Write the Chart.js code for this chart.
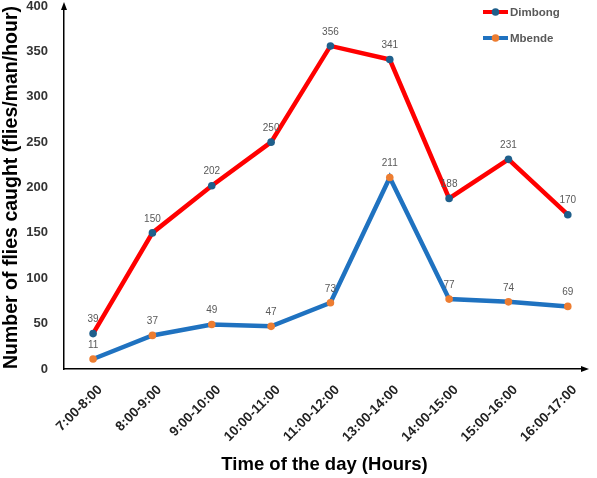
<!DOCTYPE html>
<html>
<head>
<meta charset="utf-8">
<script src="https://cdn.jsdelivr.net/npm/chart.js@4/dist/chart.umd.min.js"></script>
<style>
    html, body { margin: 0; padding: 0; background: #fff; }
    #wrap { width: 597px; height: 478px; }
</style>
</head>
<body>
<div id="wrap"><canvas id="flyChart"></canvas></div>
<script>
const timeLabels = ['7:00-8:00', '8:00-9:00', '9:00-10:00', '10:00-11:00', '11:00-12:00', '13:00-14:00', '14:00-15:00', '15:00-16:00', '16:00-17:00'];
const dimbongValues = [39, 150, 202, 250, 356, 341, 188, 231, 170];
const mbendeValues = [11, 37, 49, 47, 73, 211, 77, 74, 69];
const yTicks = [0, 50, 100, 150, 200, 250, 300, 350, 400];

const FONT = '"Liberation Sans", Arial, sans-serif';

const toPoints = (values) => values.map((v, i) => ({ x: i, y: v }));

// Value labels above each point
const valueLabels = {
    id: 'valueLabels',
    afterDatasetsDraw(chart) {
        const ctx = chart.ctx;
        ctx.save();
        ctx.font = '10px ' + FONT;
        ctx.fillStyle = '#595959';
        ctx.textAlign = 'center';
        ctx.textBaseline = 'middle';
        chart.data.datasets.forEach((ds, di) => {
            chart.getDatasetMeta(di).data.forEach((pt, i) => {
                ctx.fillText(String(ds.data[i].y), pt.x, pt.y - 14);
            });
        });
        ctx.restore();
    }
};

// Arrow heads on the ends of both axes
const axisArrows = {
    id: 'axisArrows',
    afterDraw(chart) {
        const { left, top, right, bottom } = chart.chartArea;
        const ctx = chart.ctx;
        ctx.save();
        ctx.fillStyle = '#000';
        ctx.beginPath();
        ctx.moveTo(left, top - 4);
        ctx.lineTo(left - 3, top + 4);
        ctx.lineTo(left + 3, top + 4);
        ctx.closePath();
        ctx.fill();
        ctx.beginPath();
        ctx.moveTo(right + 4, bottom);
        ctx.lineTo(right - 4, bottom - 3);
        ctx.lineTo(right - 4, bottom + 3);
        ctx.closePath();
        ctx.fill();
        ctx.restore();
    }
};

// Legend in the top right corner
const cornerLegend = {
    id: 'cornerLegend',
    afterDraw(chart) {
        const ctx = chart.ctx;
        ctx.save();
        chart.data.datasets.forEach((ds, i) => {
            const y = 12 + i * 26;
            ctx.strokeStyle = ds.borderColor;
            ctx.lineWidth = 4;
            ctx.beginPath();
            ctx.moveTo(483, y);
            ctx.lineTo(508, y);
            ctx.stroke();
            ctx.fillStyle = ds.pointBackgroundColor;
            ctx.beginPath();
            ctx.arc(495.5, y, 3.8, 0, Math.PI * 2);
            ctx.fill();
            ctx.fillStyle = '#595959';
            ctx.font = 'bold 11.5px ' + FONT;
            ctx.textAlign = 'left';
            ctx.textBaseline = 'middle';
            ctx.fillText(ds.label, 510, y + 1);
        });
        ctx.restore();
    }
};

new Chart(document.getElementById('flyChart'), {
    type: 'line',
    data: {
        datasets: [
            {
                label: 'Dimbong',
                data: toPoints(dimbongValues),
                borderColor: '#ff0000',
                borderWidth: 4.5,
                pointBackgroundColor: '#1f5f8b',
                pointBorderWidth: 0,
                pointRadius: 3.8,
                tension: 0,
            },
            {
                label: 'Mbende',
                data: toPoints(mbendeValues),
                borderColor: '#1f72c0',
                borderWidth: 4.5,
                pointBackgroundColor: '#ed7d31',
                pointBorderWidth: 0,
                pointRadius: 3.8,
                tension: 0,
            },
        ],
    },
    options: {
        responsive: true,
        maintainAspectRatio: false,
        animation: false,
        layout: { padding: { top: 6, right: 12, left: 0, bottom: 0 } },
        plugins: {
            legend: { display: false },
            tooltip: { enabled: false },
        },
        scales: {
            x: {
                type: 'linear',
                min: -0.49,
                max: 8.29,
                afterBuildTicks: (scale) => {
                    scale.ticks = timeLabels.map((_, i) => ({ value: i }));
                },
                afterFit: (scale) => { scale.height = 109; },
                grid: { display: false, drawTicks: false },
                border: { display: true, color: '#000', width: 1.5 },
                ticks: {
                    autoSkip: false,
                    minRotation: 45,
                    maxRotation: 45,
                    padding: 13,
                    labelOffset: 7,
                    color: '#222',
                    font: { family: FONT, size: 13.5, weight: 'bold' },
                    callback: (value) => timeLabels[value],
                },
                title: {
                    display: true,
                    text: 'Time of the day (Hours)',
                    color: '#000',
                    font: { family: FONT, size: 18.5, weight: 'bold' },
                    padding: { top: 0, bottom: 2 },
                },
            },
            y: {
                min: 0,
                max: 400,
                afterBuildTicks: (scale) => {
                    scale.ticks = yTicks.map((v) => ({ value: v }));
                },
                afterFit: (scale) => {
                    scale.width = 64;
                    scale.paddingTop = 0;
                    scale.paddingBottom = 0;
                },
                grid: { display: false, drawTicks: false },
                border: { display: true, color: '#000', width: 1.5 },
                ticks: {
                    padding: 16,
                    color: '#333',
                    font: { family: FONT, size: 13, weight: 'bold' },
                },
                title: {
                    display: true,
                    text: 'Number of flies caught (flies/man/hour)',
                    color: '#000',
                    font: { family: FONT, size: 19.5, weight: 'bold' },
                    padding: { top: 0, bottom: 0 },
                },
            },
        },
    },
    plugins: [valueLabels, axisArrows, cornerLegend],
});
</script>
</body>
</html>
